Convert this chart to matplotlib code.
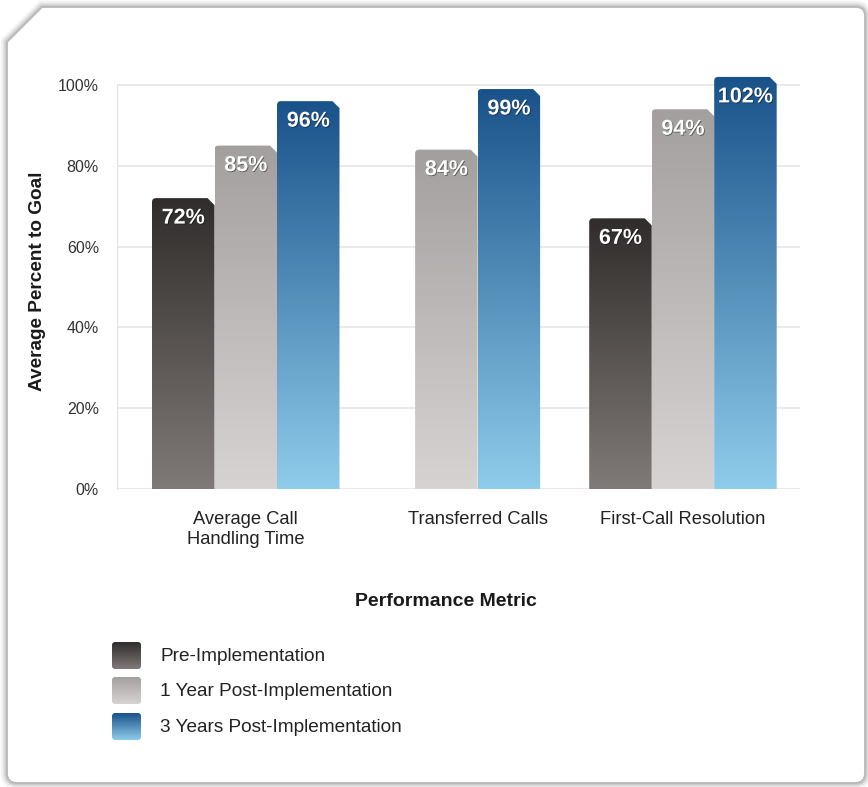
import numpy as np
import matplotlib
matplotlib.use("Agg")
import matplotlib.pyplot as plt
from matplotlib.path import Path
from matplotlib.patches import PathPatch, FancyBboxPatch
import matplotlib.patheffects as pe

plt.rcParams['font.family'] = ['Liberation Sans', 'DejaVu Sans']

# ---------------- data ----------------
categories = ["Average Call\nHandling Time", "Transferred Calls", "First-Call Resolution"]
series_names = ["Pre-Implementation", "1 Year Post-Implementation", "3 Years Post-Implementation"]
pre_impl = [72, None, 67]
one_year = [85, 84, 94]
three_years = [96, 99, 102]
yticks = [0, 20, 40, 60, 80, 100]
ytick_labels = ["0%", "20%", "40%", "60%", "80%", "100%"]
xlabel = "Performance Metric"
ylabel = "Average Percent to Goal"

series_values = [pre_impl, one_year, three_years]
# gradient colours (top, bottom)
grad_colors = [((0.19, 0.175, 0.17), (0.50, 0.48, 0.47)),
               ((0.64, 0.625, 0.62), (0.84, 0.83, 0.825)),
               ((0.10, 0.32, 0.54), (0.56, 0.80, 0.92))]

W, H = 868, 787
fig = plt.figure(figsize=(W / 100, H / 100), dpi=100)
fig.patch.set_facecolor("white")

# ---------------- card background ----------------
bg = fig.add_axes([0, 0, 1, 1], zorder=0)
bg.set_xlim(0, W)
bg.set_ylim(H, 0)
bg.axis("off")

def card_path(off=0.0):
    L, T, R, B = 7 - off, 7 - off, 865 + off, 783 + off
    verts = [(L, 42), (42, T), (R - 9, T), (R, T), (R, T + 9), (R, B - 10),
             (R, B), (R - 10, B), (L + 10, B), (L, B), (L, B - 10), (L, 42)]
    codes = [Path.MOVETO, Path.LINETO, Path.LINETO, Path.CURVE3, Path.CURVE3, Path.LINETO,
             Path.CURVE3, Path.CURVE3, Path.LINETO, Path.CURVE3, Path.CURVE3, Path.CLOSEPOLY]
    return Path(verts, codes)

for lw, a in [(9, 0.10), (6, 0.15), (3.5, 0.25)]:
    bg.add_patch(PathPatch(card_path(), facecolor="none", edgecolor="#8a8a8a", lw=lw, alpha=a))
bg.add_patch(PathPatch(card_path(), facecolor="white", edgecolor="#b9b9b9", lw=1.3))

# ---------------- main axes ----------------
px_per_unit = (489 - 85) / 100.0
ytop = 106
ax_top_px = 489 - ytop * px_per_unit
ax = fig.add_axes([117 / W, 1 - 489 / H, (800 - 117) / W, (489 - ax_top_px) / H], zorder=1)
ax.patch.set_alpha(0)

bar_w = 1.0
xmax = (800 - 117) / 62.5
group_centers = [2.06, 5.77, 9.055]

def grad_image(top, bottom, n=256):
    t = np.linspace(0, 1, n)[:, None]
    top = np.array(top); bottom = np.array(bottom)
    arr = bottom[None, :] * (1 - t) + top[None, :] * t
    return arr[:, None, :]

cx = 7 / 62.5
cy = 7 / px_per_unit
rx = 4 / 62.5
ry = 4 / px_per_unit

for g, center in enumerate(group_centers):
    present = [s for s in range(3) if series_values[s][g] is not None]
    n = len(present)
    for k, s in enumerate(present):
        v = series_values[s][g]
        xc = center + (k - (n - 1) / 2) * bar_w
        rect = ax.bar(xc, v, width=bar_w, color="none", edgecolor="none")[0]
        x0, w, h = rect.get_x(), rect.get_width(), rect.get_height()
        x1 = x0 + w
        verts = [(x0, 0), (x0, h - ry), (x0, h), (x0 + rx, h), (x1 - cx, h),
                 (x1, h - cy), (x1, 0), (x0, 0)]
        codes = [Path.MOVETO, Path.LINETO, Path.CURVE3, Path.CURVE3, Path.LINETO,
                 Path.LINETO, Path.LINETO, Path.CLOSEPOLY]
        patch = PathPatch(Path(verts, codes), facecolor="none", edgecolor="none",
                          transform=ax.transData)
        ax.add_patch(patch)
        top, bottom = grad_colors[s]
        im = ax.imshow(grad_image(top, bottom), extent=(x0, x1, 0, h), origin="lower",
                       aspect="auto", zorder=2, interpolation="bilinear")
        im.set_clip_path(patch)
        ax.annotate(f"{v}%", xy=(xc, h), xytext=(0, -20), textcoords="offset pixels",
                    ha="center", va="center", color="white", fontsize=15.5,
                    fontweight="bold", zorder=4,
                    path_effects=[pe.withSimplePatchShadow(offset=(0.6, -0.6),
                                                           shadow_rgbFace="black", alpha=0.45)])

ax.set_xlim(0, xmax)
ax.set_ylim(0, ytop)
ax.set_yticks(yticks)
ax.set_yticklabels(ytick_labels, fontsize=11.5, color="#333333")
ax.set_xticks(group_centers)
ax.set_xticklabels(categories, fontsize=13.2, color="#222222", linespacing=1.25)
ax.tick_params(axis="both", length=0)
ax.tick_params(axis="y", pad=13)
ax.tick_params(axis="x", pad=16)
ax.yaxis.grid(True, color="#e6e6e6", lw=1.2, zorder=0)
ax.set_axisbelow(True)
for sp in ["top", "right", "bottom"]:
    ax.spines[sp].set_visible(False)
ax.spines["left"].set_color("#e2e2e2")
ax.spines["left"].set_bounds(0, 100)

fig.text(446 / W, 1 - 602 / H, xlabel, ha="center", va="center", fontsize=14,
         fontweight="bold", color="#1a1a1a")
fig.text(38 / W, 1 - 281 / H, ylabel, ha="center", va="center", rotation=90,
         fontsize=13.7, fontweight="bold", color="#1a1a1a")

# ---------------- legend ----------------
row_tops = [642, 677, 713]
for s, name in enumerate(series_names):
    y0 = row_tops[s]
    box = FancyBboxPatch((112, y0), 29, 27, boxstyle="round,pad=0,rounding_size=3",
                         facecolor="none", edgecolor="none")
    bg.add_patch(box)
    top, bottom = grad_colors[s]
    im = bg.imshow(grad_image(bottom, top), extent=(112, 141, y0, y0 + 27),
                   origin="lower", aspect="auto", zorder=2, interpolation="bilinear")
    im.set_clip_path(box)
    bg.text(160, y0 + 14.5, name, ha="left", va="center", fontsize=13.7, color="#222222")

bg.set_xlim(0, W)
bg.set_ylim(H, 0)

fig.savefig("out.png", dpi=100)
